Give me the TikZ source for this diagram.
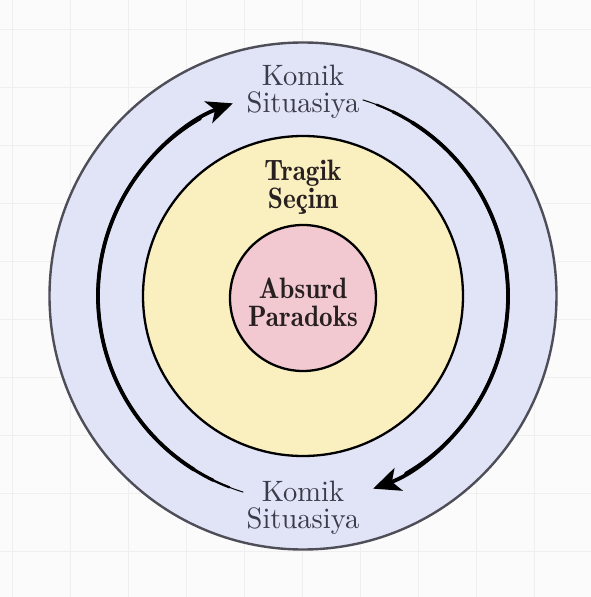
\documentclass[tikz,border=0pt]{standalone}
\usepackage{tikz}
\usetikzlibrary{arrows.meta}

\definecolor{paper}{HTML}{FBFBFB}
\definecolor{gridgray}{HTML}{EFEFEF}
\definecolor{ringblue}{HTML}{E1E3F6}
\definecolor{ringyellow}{HTML}{F9EFBF}
\definecolor{ringpink}{HTML}{F2C9D1}
\definecolor{rimgray}{HTML}{4E4E58}
\definecolor{textgray}{HTML}{3A3C4A}
\definecolor{textdark}{HTML}{281F21}

\begin{document}
\begin{tikzpicture}[x=1pt, y=1pt,
	ringtext/.style={align=center, inner sep=0pt, text=textgray,
		font=\fontsize{10}{9.3}\selectfont, xscale=2.85, yscale=2.95},
	coretext/.style={align=center, inner sep=0pt, text=textdark,
		font=\fontsize{10}{9.6}\fontseries{b}\selectfont, xscale=2.72, yscale=2.95},
	flow/.style={line cap=round}]
	\coordinate (O) at (0,0);
	\coordinate (P) at (0,-2);
	\def\ro{253.5} % outer ring
	\def\ry{160} % middle ring
	\def\rp{73} % core
	\def\ra{205} % radius of the arrows
	
	% page and faint grid
	\useasboundingbox (-303,-301) rectangle (288,296);
	\fill[paper] (-303,-301) rectangle (288,296);
	\begin{scope}[shift={(-291,267)}]
		\draw[gridgray, step=58] (-20,-580) grid (590,40);
	\end{scope}
	
	% rings
	\draw[fill=ringblue, draw=rimgray, line width=2.4] (O) circle (\ro);
	\draw[fill=ringyellow, line width=2.3] (O) circle (\ry);
	\draw[fill=ringpink, line width=2.3] (P) circle (\rp);
	
	% left arrow, thin tail at the bottom
	\draw[flow, line width=1] (253:\ra) arc (253:120:\ra);
	\draw[flow, line width=2.2] (249:\ra) arc (249:120:\ra);
	\draw[flow, line width=3.1] (244:\ra) arc (244:120:\ra);
	\draw[line width=3.8, -{Stealth[length=26pt, width=23pt, inset=7pt]}]
	(238:\ra) arc (238:110:\ra);
	
	% right arrow, thin tail at the top
	\draw[flow, line width=1] (73:\ra) arc (73:-60:\ra);
	\draw[flow, line width=2.2] (69:\ra) arc (69:-60:\ra);
	\draw[flow, line width=3.1] (64:\ra) arc (64:-60:\ra);
	\draw[line width=3.8, -{Stealth[length=27pt, width=24pt, inset=7pt]}]
	(58:\ra) arc (58:-70:\ra);
	
	% labels
	\node[ringtext] (comicTop) at (0,204) {Komik\\Situasiya};
	\node[ringtext] (comicBottom) at (0,-212) {Komik\\Situasiya};
	\node[coretext] (tragic) at (0,109) {Tragik\\Seçim};
	\node[coretext] (absurd) at (0,-6) {Absurd\\Paradoks};
\end{tikzpicture}
\end{document}
